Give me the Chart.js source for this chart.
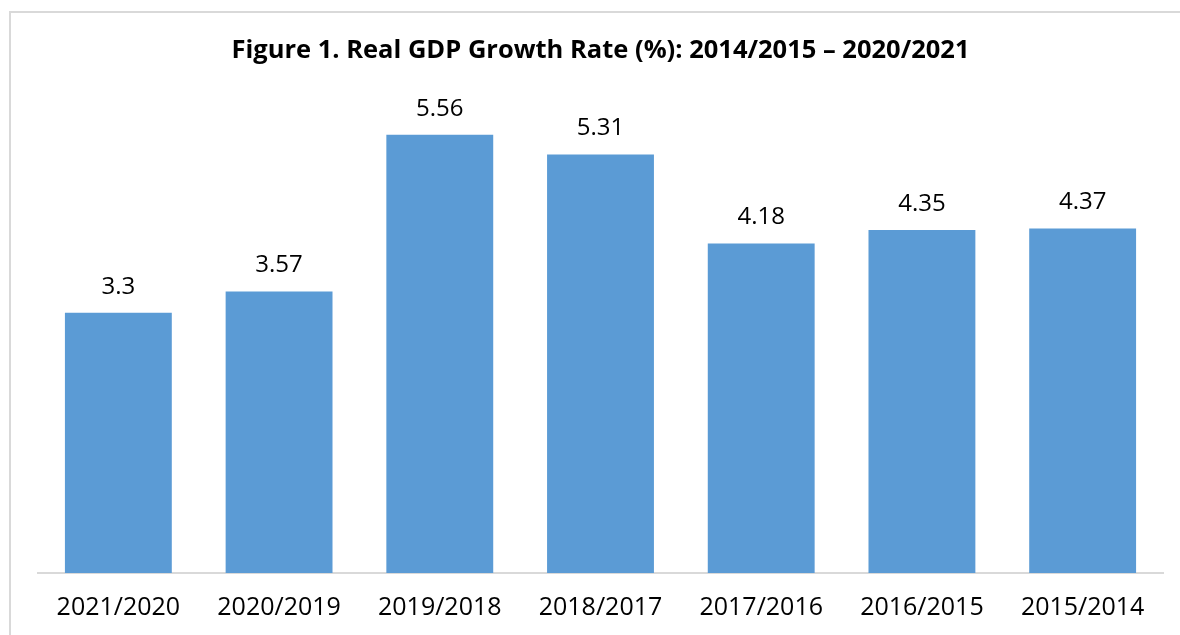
<!DOCTYPE html>
<html>
<head>
<meta charset="utf-8">
<script src="https://cdn.jsdelivr.net/npm/chart.js@4.4.1/dist/chart.umd.min.js"></script>
<style>
html,body{margin:0;padding:0;background:#fff;}
#wrap{width:1180px;height:635px;position:relative;}
canvas{display:block;}
</style>
</head>
<body>
<div id="wrap"><canvas id="c" width="1180" height="635"></canvas></div>
<script>
const titleText = "Figure 1. Real GDP Growth Rate (%): 2014/2015 \u2013 2020/2021";
const categories = ["2021/2020","2020/2019","2019/2018","2018/2017","2017/2016","2016/2015","2015/2014"];
const growthRates = [3.3, 3.57, 5.56, 5.31, 4.18, 4.35, 4.37];
const valueLabels = ["3.3","3.57","5.56","5.31","4.18","4.35","4.37"];

const FONT = "'Open Sans', sans-serif";

const frame = {
  id: 'frame',
  beforeDraw(chart) {
    const ctx = chart.ctx;
    ctx.save();
    ctx.fillStyle = '#ffffff';
    ctx.fillRect(0, 0, chart.width, chart.height);
    ctx.strokeStyle = '#d9d9d9';
    ctx.lineWidth = 2;
    ctx.strokeRect(10, 12, chart.width + 20, chart.height + 20);
    ctx.restore();
  }
};

const dataLabels = {
  id: 'dataLabels',
  afterDatasetsDraw(chart) {
    const ctx = chart.ctx;
    const meta = chart.getDatasetMeta(0);
    ctx.save();
    ctx.font = "24px " + FONT;
    ctx.fillStyle = '#000000';
    ctx.textAlign = 'center';
    ctx.textBaseline = 'middle';
    meta.data.forEach((bar, i) => {
      ctx.fillText(valueLabels[i], bar.x, bar.y - 26);
    });
    ctx.restore();
  }
};

new Chart(document.getElementById('c'), {
  type: 'bar',
  data: {
    labels: categories,
    datasets: [{
      data: growthRates,
      backgroundColor: '#5B9BD5',
      borderWidth: 0,
      categoryPercentage: 1,
      barPercentage: 0.665
    }]
  },
  options: {
    responsive: false,
    animation: false,
    devicePixelRatio: 1,
    layout: { padding: { left: 38, right: 17, top: 0, bottom: 0 } },
    plugins: {
      legend: { display: false },
      tooltip: { enabled: false },
      title: {
        display: true,
        text: titleText,
        color: '#000000',
        font: { family: FONT, size: 25.5, weight: 'bold', lineHeight: 1.2 },
        padding: { top: 35, bottom: 34.4 }
      }
    },
    scales: {
      x: {
        grid: { display: false, drawTicks: false },
        border: { display: true, color: '#d9d9d9', width: 2 },
        ticks: { color: '#000000', font: { family: FONT, size: 25 }, padding: 20, maxRotation: 0 },
        afterFit(scale) { scale.height = 62; }
      },
      y: {
        display: false,
        min: 0,
        max: 6
      }
    }
  },
  plugins: [frame, dataLabels]
});
</script>
</body>
</html>
